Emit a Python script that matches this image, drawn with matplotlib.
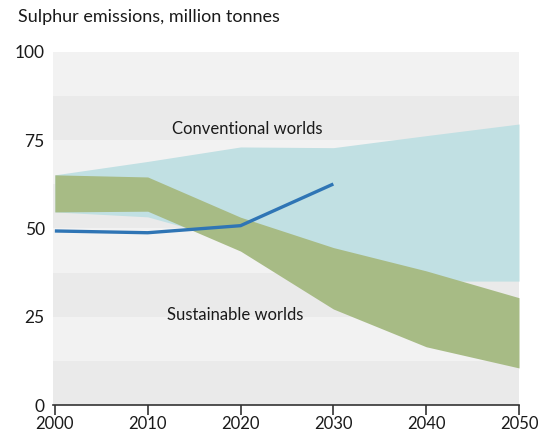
import matplotlib
matplotlib.use("Agg")
import matplotlib.pyplot as plt

years = [2000, 2010, 2020, 2030, 2040, 2050]
conv_upper = [65.2, 69.0, 73.1, 72.9, 76.3, 79.6]
conv_lower = [54.7, 53.3, 46.0, 39.0, 35.1, 35.1]
sust_upper = [65.2, 64.6, 53.2, 44.6, 38.0, 30.4]
sust_lower = [54.7, 54.9, 43.6, 27.2, 16.5, 10.5]
hist_years = [2000, 2010, 2020, 2030]
hist_values = [49.3, 48.8, 50.8, 62.6]
yticks = [0, 25, 50, 75, 100]
xticks = [2000, 2010, 2020, 2030, 2040, 2050]

plt.rcParams['font.family'] = ['Lato', 'DejaVu Sans']

fig = plt.figure(figsize=(5.38, 4.42), dpi=100)
ax = fig.add_axes([53/538, 1-405/442, (519-53)/538, (405-52)/442])

# stripes
for i in range(8):
    col = '#eaeaea' if i % 2 == 0 else '#f2f2f2'
    ax.axhspan(i*12.5, (i+1)*12.5, color=col, lw=0, zorder=0)

ax.fill_between(years, conv_lower, conv_upper, color='#c1e0e3', lw=0, zorder=1)
ax.fill_between(years, sust_lower, sust_upper, color='#a7bb85', lw=0, zorder=2)
ax.plot(hist_years, hist_values, color='#2f75b5', lw=2.4, zorder=3, solid_capstyle='butt')

ax.text(2012.6, 78.2, 'Conventional worlds', fontsize=12, color='#1a1a1a', va='center', ha='left', zorder=4)
ax.text(2012.1, 25.6, 'Sustainable worlds', fontsize=12, color='#1a1a1a', va='center', ha='left', zorder=4)

ax.set_xlim(1999.8, 2050)
ax.set_ylim(0, 100)
ax.set_xticks(xticks)
ax.set_xticklabels([str(x) for x in xticks], fontsize=12)
ax.set_yticks(yticks)
ax.set_yticklabels([str(y) for y in yticks], fontsize=12.5)
for s in ['top', 'right', 'left']:
    ax.spines[s].set_visible(False)
ax.spines['bottom'].set_color('#333333')
ax.spines['bottom'].set_linewidth(1.2)
ax.tick_params(axis='x', direction='out', length=7, width=1.2, color='#333333', pad=1, labelcolor='#1a1a1a')
ax.tick_params(axis='y', length=0, pad=6, labelcolor='#1a1a1a')

fig.text(18/538, 1-17/442, 'Sulphur emissions, million tonnes', fontsize=13, color='#1a1a1a', va='center', ha='left')

fig.savefig('out.png', dpi=100)
